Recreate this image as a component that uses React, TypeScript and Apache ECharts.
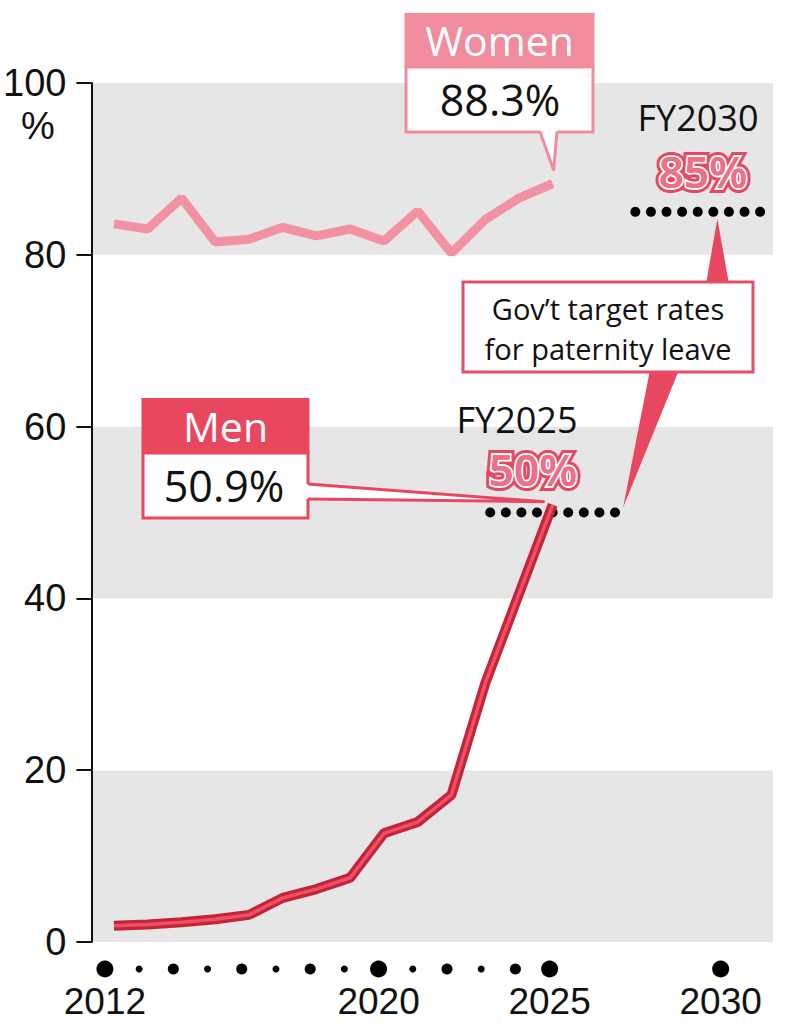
import * as echarts from "echarts";
import { useEffect, useRef } from "react";

// fiscal years with survey data
const years = [2012, 2013, 2014, 2015, 2016, 2017, 2018, 2019, 2020, 2021, 2022, 2023, 2024, 2025];
const women = [83.6, 83.0, 86.6, 81.5, 81.8, 83.2, 82.2, 83.0, 81.6, 85.1, 80.2, 84.1, 86.6, 88.3];
const men = [1.89, 2.03, 2.3, 2.65, 3.16, 5.14, 6.16, 7.48, 12.65, 13.97, 17.13, 30.1, 40.5, 50.9];

// x axis dots and labels
const dotYears = [...years, 2030];
const labelYears = [2012, 2020, 2025, 2030];

// gov't targets
const targetYears = [2025, 2030];
const targetRates = [50, 85];
const targetSpans = [
  [2023.15, 2026.85],
  [2027.45, 2031.15],
];
const targetDots = 9;

const X_MIN = 2011.33;
const X_MAX = 2031.53;

const NUM_FONT = '"Liberation Sans", Arial, sans-serif';
const TXT_FONT = '"Open Sans", "Noto Sans", sans-serif';
const PINK = "#f08c9e";
const RED = "#e8485f";

const App = () => {
  const chartRef = useRef(null);

  useEffect(() => {
    if (!chartRef.current) return;
    const myChart = echarts.init(chartRef.current, null, { renderer: "svg" });

    const targetSeries = (gaps: number[]) =>
      targetRates.map((rate, i) => ({
        id: "target" + i,
        type: "line",
        symbol: "none",
        z: 3,
        data: targetSpans[i].map((x) => [x, rate]),
        lineStyle: { color: "#000", width: 10, type: [0.01, gaps[i]], cap: "round" },
      }));

    const option = {
      animation: false,
      grid: [
        { left: 82, right: 12, top: 83, bottom: 82 },
        { left: 82, right: 12, top: 950, height: 38 },
      ],
      xAxis: [
        { type: "value", gridIndex: 0, min: X_MIN, max: X_MAX, show: false },
        {
          type: "value",
          gridIndex: 1,
          min: X_MIN,
          max: X_MAX,
          axisLine: { show: false },
          axisTick: { show: false },
          splitLine: { show: false },
          axisLabel: {
            customValues: labelYears,
            formatter: (v: number) => String(v),
            fontFamily: NUM_FONT,
            fontSize: 37,
            lineHeight: 34,
            verticalAlign: "middle",
            color: "#111",
            margin: 13,
          },
        },
      ],
      yAxis: [
        {
          type: "value",
          gridIndex: 0,
          min: 0,
          max: 100,
          interval: 20,
          axisLine: { show: true, lineStyle: { color: "#111", width: 2 } },
          axisTick: { show: true, length: 15, lineStyle: { color: "#111", width: 2 } },
          axisLabel: { margin: 25, fontSize: 38, lineHeight: 36, fontFamily: NUM_FONT, color: "#111" },
          splitLine: { show: false },
          splitArea: { show: true, areaStyle: { color: ["#e6e6e6", "#ffffff"] } },
        },
        { type: "value", gridIndex: 1, min: 0, max: 1, show: false },
      ],
      series: [
        ...targetSeries([15.8, 15.8]),
        {
          name: "Women",
          type: "line",
          symbol: "none",
          z: 4,
          data: years.map((y, i) => [y, women[i]]),
          lineStyle: { color: "#f291a2", width: 9 },
        },
        {
          name: "Men",
          type: "line",
          symbol: "none",
          z: 5,
          data: years.map((y, i) => [y, men[i]]),
          lineStyle: { color: "#c4243a", width: 10 },
        },
        {
          name: "Men inner",
          type: "line",
          symbol: "none",
          z: 6,
          data: years.map((y, i) => [y, men[i]]),
          lineStyle: { color: "#ee5064", width: 3.5 },
        },
        {
          type: "scatter",
          xAxisIndex: 1,
          yAxisIndex: 1,
          data: dotYears.map((y) => [y, 0.5]),
          symbolSize: (v: number[]) => (labelYears.includes(v[0]) ? 17 : v[0] % 2 === 0 ? 11 : 7),
          itemStyle: { color: "#000", opacity: 1 },
        },
      ],
    };
    myChart.setOption(option);

    const px = (x: number, y: number) => myChart.convertToPixel({ gridIndex: 0 }, [x, y]) as number[];
    const wEnd = px(years[years.length - 1], women[women.length - 1]);
    const mEnd = px(years[years.length - 1], men[men.length - 1]);
    const t50End = px(targetSpans[0][1], targetRates[0]);
    const t85 = px(targetYears[1], targetRates[1]);

    // spread the target dots evenly along each dotted segment
    const gaps = targetSpans.map((s, i) => (px(s[1], targetRates[i])[0] - px(s[0], targetRates[i])[0]) / (targetDots - 1) - 0.02);

    const txt = (text: string, x: number, y: number, size: number, fill: string, z = 120, extra = {}) => ({
      type: "text",
      x,
      y,
      z,
      style: { text, fill, fontSize: size, fontFamily: TXT_FONT, align: "center", verticalAlign: "middle", ...extra },
    });

    const outlined = (text: string, x: number, y: number) => [
      txt(text, x, y, 44, RED, 121, { stroke: RED, lineWidth: 10, fontWeight: 600, lineJoin: "round" }),
      txt(text, x, y, 44, RED, 122, { stroke: "#fff", lineWidth: 4, fontWeight: 600, lineJoin: "round" }),
      txt(text, x, y, 44, "#ef6f86", 123, { fontWeight: 600 }),
    ];

    const wTip = [wEnd[0] + 1, wEnd[1] - 13];
    const mTip = [mEnd[0] - 8, mEnd[1] - 3];
    const upTip = [t85[0] - 4, t85[1] + 7];
    const downTip = [t50End[0] + 8, t50End[1] - 5];

    myChart.setOption({
      series: targetSeries(gaps),
      graphic: [
        // Women callout
        { type: "rect", z: 100, shape: { x: 406, y: 67, width: 187, height: 65 }, style: { fill: "#fff", stroke: PINK, lineWidth: 3 } },
        { type: "rect", z: 101, shape: { x: 404.5, y: 13, width: 190, height: 55 }, style: { fill: PINK } },
        { type: "polygon", z: 102, shape: { points: [[540, 129], wTip, [557, 129]] }, style: { fill: "#fff" } },
        { type: "polyline", z: 103, shape: { points: [[540, 131.5], wTip, [557, 131.5]] }, style: { stroke: PINK, lineWidth: 3, fill: "none" } },
        txt("Women", 499.5, 40, 41, "#fff"),
        txt("88.3%", 500, 99, 43, "#111"),

        // Men callout
        { type: "rect", z: 100, shape: { x: 143, y: 453, width: 165, height: 65 }, style: { fill: "#fff", stroke: RED, lineWidth: 3 } },
        { type: "rect", z: 101, shape: { x: 141.5, y: 398, width: 168, height: 56 }, style: { fill: RED } },
        { type: "polygon", z: 102, shape: { points: [[305, 484], mTip, [305, 499]] }, style: { fill: "#fff" } },
        { type: "polyline", z: 103, shape: { points: [[308, 484], mTip, [308, 499]] }, style: { stroke: RED, lineWidth: 3, fill: "none" } },
        txt("Men", 225.5, 426, 41, "#fff"),
        txt("50.9%", 224, 485, 43, "#111"),

        // Gov't target box with pointers
        { type: "polygon", z: 99, shape: { points: [[706, 284], upTip, [729, 284]] }, style: { fill: RED } },
        { type: "polygon", z: 99, shape: { points: [[650, 370], downTip, [679, 370]] }, style: { fill: RED } },
        { type: "rect", z: 100, shape: { x: 463, y: 282, width: 290, height: 90 }, style: { fill: "#fff", stroke: "#e0506a", lineWidth: 3 } },
        txt("Gov\u2019t target rates", 608, 308, 29, "#111"),
        txt("for paternity leave", 608, 348, 29, "#111"),

        // target labels
        txt("FY2030", 698, 117, 36, "#111"),
        ...outlined("85%", 703, 171),
        txt("FY2025", 517, 419, 36, "#111"),
        ...outlined("50%", 533, 469),

        // % unit under 100
        { type: "text", x: 38, y: 126, z: 120, style: { text: "%", fill: "#111", fontSize: 38, fontFamily: NUM_FONT, align: "center", verticalAlign: "middle" } },
      ],
    });

    return () => {
      myChart.dispose();
    };
  }, []);

  return <div ref={chartRef} style={{ position: "absolute", left: 0, top: 0, width: 785, height: 1024 }} />;
};

export default App;
